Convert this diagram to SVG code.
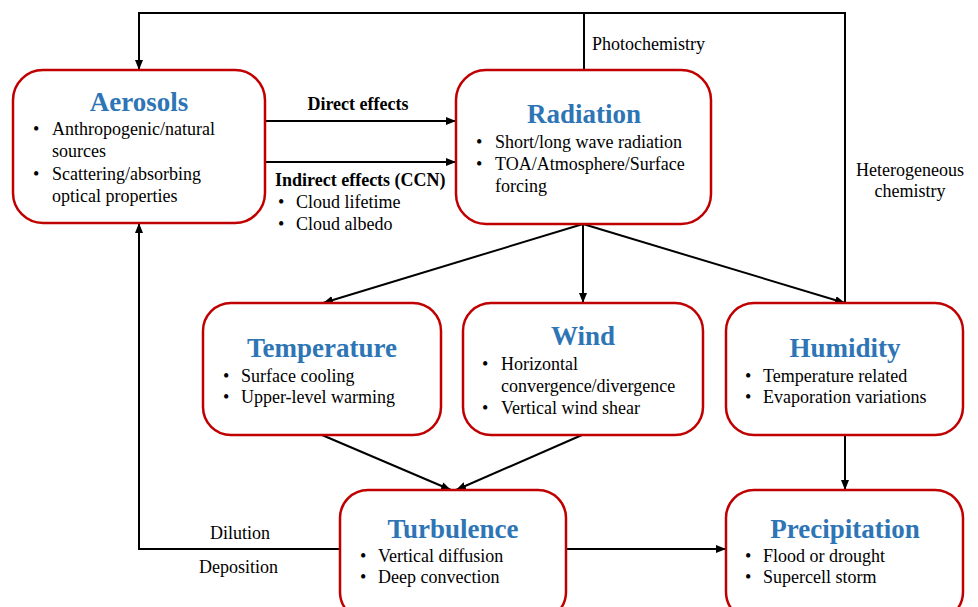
<svg xmlns="http://www.w3.org/2000/svg" width="978" height="607" viewBox="0 0 978 607">
<style>
.box{fill:#fff;stroke:#C00000;stroke-width:2.5}
.title{font-family:"Liberation Serif",serif;font-weight:bold;font-size:27px;fill:#2E75B6;text-anchor:middle}
.t{font-family:"Liberation Serif",serif;font-size:18px;fill:#000}
.b{font-family:"Liberation Serif",serif;font-size:18px;font-weight:bold;fill:#000}
.c{text-anchor:middle}
.ln{fill:none;stroke:#000;stroke-width:2}
</style>
<defs>
<marker id="ah" markerUnits="userSpaceOnUse" markerWidth="11" markerHeight="9" refX="10" refY="4" orient="auto">
<path d="M0,0 L10,4 L0,8 z" fill="#000"/>
</marker>
</defs>
<rect width="978" height="607" fill="#fff"/>
<g id="connectors">
<path class="ln" d="M845,303 L845,13 L139,13 L139,70" marker-end="url(#ah)"/>
<path class="ln" d="M584,70 L584,13"/>
<path class="ln" d="M265,121 L456,121" marker-end="url(#ah)"/>
<path class="ln" d="M265,162 L456,162" marker-end="url(#ah)"/>
<path class="ln" d="M583,224 L323,303" marker-end="url(#ah)"/>
<path class="ln" d="M583,224 L583,303" marker-end="url(#ah)"/>
<path class="ln" d="M583,224 L845,303" marker-end="url(#ah)"/>
<path class="ln" d="M322,435 L451,490" marker-end="url(#ah)"/>
<path class="ln" d="M582,435 L456,490" marker-end="url(#ah)"/>
<path class="ln" d="M845,435 L845,490" marker-end="url(#ah)"/>
<path class="ln" d="M566,549 L726,549" marker-end="url(#ah)"/>
<path class="ln" d="M340,549 L139,549 L139,223" marker-end="url(#ah)"/>
<text class="b c" x="358" y="110">Direct effects</text>
<text class="b" x="275" y="186">Indirect effects (CCN)</text>
<text class="t" x="278" y="208">•</text><text class="t" x="296" y="208">Cloud lifetime</text>
<text class="t" x="278" y="230">•</text><text class="t" x="296" y="230">Cloud albedo</text>
<text class="t" x="592" y="50">Photochemistry</text>
<text class="t c" x="910" y="176">Heterogeneous</text>
<text class="t c" x="910" y="197">chemistry</text>
<text class="t" x="210" y="539">Dilution</text>
<text class="t" x="199" y="573">Deposition</text>
</g>
<g id="aerosols">
<rect class="box" x="13" y="70" width="252" height="153" rx="30"/>
<text class="title" x="139" y="111">Aerosols</text>
<text class="t" x="33" y="135">•</text><text class="t" x="52" y="135">Anthropogenic/natural</text>
<text class="t" x="52" y="157">sources</text>
<text class="t" x="33" y="180">•</text><text class="t" x="52" y="180">Scattering/absorbing</text>
<text class="t" x="52" y="202">optical properties</text>
</g>
<g id="radiation">
<rect class="box" x="456" y="70" width="255" height="154" rx="30"/>
<text class="title" x="584" y="123">Radiation</text>
<text class="t" x="476" y="148">•</text><text class="t" x="495" y="148">Short/long wave radiation</text>
<text class="t" x="476" y="170">•</text><text class="t" x="495" y="170">TOA/Atmosphere/Surface</text>
<text class="t" x="495" y="192">forcing</text>
</g>
<g id="temperature">
<rect class="box" x="203" y="303" width="238" height="132" rx="28"/>
<text class="title" x="322" y="357">Temperature</text>
<text class="t" x="223" y="382">•</text><text class="t" x="241" y="382">Surface cooling</text>
<text class="t" x="223" y="403">•</text><text class="t" x="241" y="403">Upper-level  warming</text>
</g>
<g id="wind">
<rect class="box" x="463" y="303" width="240" height="132" rx="28"/>
<text class="title" x="583" y="345">Wind</text>
<text class="t" x="482" y="370">•</text><text class="t" x="501" y="370">Horizontal</text>
<text class="t" x="501" y="392">convergence/divergence</text>
<text class="t" x="482" y="414">•</text><text class="t" x="501" y="414">Vertical  wind shear</text>
</g>
<g id="humidity">
<rect class="box" x="726" y="303" width="237" height="132" rx="28"/>
<text class="title" x="845" y="357">Humidity</text>
<text class="t" x="745" y="382">•</text><text class="t" x="763" y="382">Temperature related</text>
<text class="t" x="745" y="403">•</text><text class="t" x="763" y="403">Evaporation variations</text>
</g>
<g id="turbulence">
<rect class="box" x="340" y="490" width="226" height="130" rx="28"/>
<text class="title" x="453" y="538">Turbulence</text>
<text class="t" x="360" y="562">•</text><text class="t" x="378" y="562">Vertical  diffusion</text>
<text class="t" x="360" y="583">•</text><text class="t" x="378" y="583">Deep convection</text>
</g>
<g id="precipitation">
<rect class="box" x="726" y="490" width="237" height="130" rx="28"/>
<text class="title" x="845" y="538">Precipitation</text>
<text class="t" x="745" y="562">•</text><text class="t" x="763" y="562">Flood or drought</text>
<text class="t" x="745" y="583">•</text><text class="t" x="763" y="583">Supercell storm</text>
</g>
</svg>
